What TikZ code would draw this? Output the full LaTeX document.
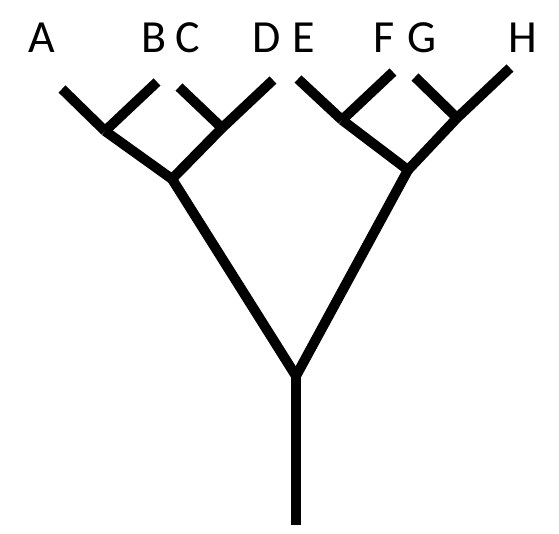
\documentclass[tikz,border=0pt]{standalone}
\usepackage{fontspec}
\setmainfont{Carlito}
\usepackage{tikz}
\usetikzlibrary{positioning,calc}
\tikzset{
  branch/.style={line width=10pt, black},
  taxon/.style={anchor=base, inner sep=0pt, font=\fontsize{46}{46}\selectfont},
}

\begin{document}
\begin{tikzpicture}[x=1pt, y=-1pt]
\useasboundingbox (0,0) rectangle (559,534);

% Forks
\coordinate (base) at (296,525);
\coordinate (root) at (296,376);
\coordinate (left) at (172,179);
\coordinate (right) at (408,170);
\coordinate (ab) at (105,131);
\coordinate (cd) at (222,128);
\coordinate (ef) at (342,120);
\coordinate (gh) at (457,118);

% Leaf tips
\coordinate (tipA) at (62,89);
\coordinate (tipB) at (157,82);
\coordinate (tipC) at (179,87);
\coordinate (tipD) at (273,80);
\coordinate (tipE) at (298,79);
\coordinate (tipF) at (393,72);
\coordinate (tipG) at (415,77);
\coordinate (tipH) at (510,68);

% Labels
\node[taxon] (labA) at (42,53) {A};
\node[taxon] (labB) at (154,53) {B};
\node[taxon] (labC) at (188,53) {C};
\node[taxon] (labD) at (267,53) {D};
\node[taxon] (labE) at (304,53) {E};
\node[taxon] (labF) at (384,53) {F};
\node[taxon] (labG) at (422,53) {G};
\node[taxon] (labH) at (523,53) {H};

% Trunk and main split
\draw[branch] (base) -- (root);
\draw[branch] (root) -- (left);
\draw[branch] (root) -- (right);

% Left clade
\draw[branch] (left) -- (ab);
\draw[branch] (left) -- (cd);
\draw[branch] (ab) -- (tipA);
\draw[branch] (ab) -- (tipB);
\draw[branch] (cd) -- (tipC);
\draw[branch] (cd) -- (tipD);

% Right clade
\draw[branch] (right) -- (ef);
\draw[branch] (right) -- (gh);
\draw[branch] (ef) -- (tipE);
\draw[branch] (ef) -- (tipF);
\draw[branch] (gh) -- (tipG);
\draw[branch] (gh) -- (tipH);

\end{tikzpicture}
\end{document}
